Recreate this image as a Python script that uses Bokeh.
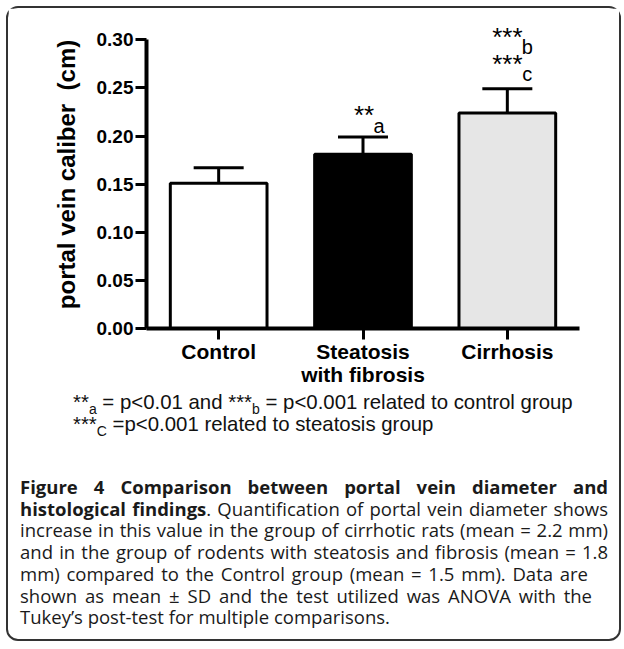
from bokeh.plotting import figure
from bokeh.models import (FactorRange, Range1d, FixedTicker, NumeralTickFormatter,
                          Whisker, TeeHead, ColumnDataSource, Label, Div)
from bokeh.layouts import column
from bokeh.embed import file_html
from bokeh.resources import INLINE

# ---------------- data ----------------
categories = ["Control", "Steatosis\nwith fibrosis", "Cirrhosis"]
means = [0.151, 0.181, 0.224]
sds = [0.016, 0.018, 0.025]
bar_colors = ["#ffffff", "#000000", "#e6e6e6"]
y_ticks = [0.0, 0.05, 0.10, 0.15, 0.20, 0.25, 0.30]
y_axis_max = 0.30

# significance marks: group index, text, baseline value
ann_group = [1, 1, 2, 2, 2, 2]
ann_text = ["**", "a", "***", "b", "***", "c"]
ann_y = [0.2213, 0.2101, 0.3033, 0.2925, 0.2745, 0.2640]

footnote_1 = ("**", "a", " = p&lt;0.01 and ***", "b", " = p&lt;0.001 related to control group")
footnote_2 = ("***", "C", " =p&lt;0.001 related to steatosis group")

caption_lines = [
    "<b>Figure 4 Comparison between portal vein diameter and</b>",
    "<b>histological findings</b>. Quantification of portal vein diameter shows",
    "increase in this value in the group of cirrhotic rats (mean = 2.2 mm)",
    "and in the group of rodents with steatosis and fibrosis (mean = 1.8",
    "mm) compared to the Control group (mean = 1.5 mm). Data are",
    "shown as mean &plusmn; SD and the test utilized was ANOVA with the",
    "Tukey&rsquo;s post-test for multiple comparisons.",
]

# ---------------- chart ----------------
FONT = "Liberation Sans"
W = 611
H = 383
TOP, BOTTOM = 12, 63
p = figure(x_range=FactorRange(factors=categories), y_range=Range1d(0, 0.32),
           width=W, height=H, output_backend="svg", toolbar_location=None,
           min_border_left=138, min_border_right=W - 138 - 433, min_border_top=TOP,
           min_border_bottom=BOTTOM)
p.outline_line_color = None
p.xgrid.grid_line_color = None
p.ygrid.grid_line_color = None
p.background_fill_color = "white"
p.border_fill_color = "white"

src = ColumnDataSource(dict(cat=categories, mean=means, color=bar_colors,
                            upper=[m + s for m, s in zip(means, sds)]))
p.vbar(x="cat", top="mean", width=0.67, bottom=0, source=src,
       fill_color="color", line_color="black", line_width=3)
wh = Whisker(base="cat", upper="upper", lower="mean", source=src,
             upper_head=TeeHead(size=50, line_width=3, line_color="black"),
             lower_head=None, line_width=3, line_color="black", level="glyph")
p.add_layout(wh)

for g, t, yv in zip(ann_group, ann_text, ann_y):
    star = t.startswith("*")
    p.add_layout(Label(x=g + 0.5, y=yv, text=t,
                       x_offset=(1 if g == 1 else 0) if star else (16 if g == 1 else 20),
                       text_align="center", text_baseline="alphabetic",
                       text_font=FONT, text_font_size="26px" if star else "20px",
                       text_color="black"))

# y axis
ya = p.yaxis[0]
ya.bounds = (0, y_axis_max)
ya.ticker = FixedTicker(ticks=y_ticks)
ya.formatter = NumeralTickFormatter(format="0.00")
ya.minor_tick_line_color = None
ya.axis_line_width = 4
ya.major_tick_line_width = 3
ya.major_tick_out = 11
ya.major_tick_in = 0
ya.major_label_standoff = 2
ya.major_label_text_font = FONT
ya.major_label_text_font_style = "bold"
ya.major_label_text_font_size = "19px"
ya.major_label_text_color = "black"
ya.axis_label = "portal vein caliber\u00a0 (cm)"
ya.axis_label_text_font = FONT
ya.axis_label_text_font_style = "bold"
ya.axis_label_text_font_size = "24px"
ya.axis_label_text_color = "black"
ya.axis_label_standoff = 14

# x axis
xa = p.xaxis[0]
xa.axis_line_width = 4
xa.major_tick_line_width = 3
xa.major_tick_out = 11
xa.major_tick_in = 0
xa.major_label_standoff = 0
xa.major_label_text_font = FONT
xa.major_label_text_font_style = "bold"
xa.major_label_text_font_size = "21px"
xa.major_label_text_color = "black"
xa.major_label_text_line_height = 1.0
xa.major_label_orientation = "horizontal"

# ---------------- footnotes ----------------
def sub(t):
    return ('<span style="font-size:14px;position:relative;top:5px;'
            'line-height:0">%s</span>' % t)

fn1 = footnote_1[0] + sub(footnote_1[1]) + footnote_1[2] + sub(footnote_1[3]) + footnote_1[4]
fn2 = footnote_2[0] + sub(footnote_2[1]) + footnote_2[2]
notes = Div(text=('<div style="font-family:\'Liberation Sans\',Arial,sans-serif;'
                  'font-size:20.4px;line-height:22px;color:#111;padding-left:65px;'
                  'padding-top:0px;white-space:nowrap">%s<br>%s</div>' % (fn1, fn2)),
            width=W, height=85, margin=0)

# ---------------- caption ----------------
line_w = [588, 588, 588, 588, 568, 572, None]
rows = []
for txt, w in zip(caption_lines, line_w):
    if w is None:
        rows.append('<div style="text-align:left">%s</div>' % txt)
    else:
        rows.append('<div style="width:%dpx;text-align:justify;text-align-last:justify">%s</div>'
                    % (w, txt))
caption = Div(text=('<div style="font-family:\'Open Sans\',sans-serif;font-size:18.5px;'
                    'line-height:21.7px;color:#1a1a1a;padding-left:12px">%s</div>'
                    % "".join(rows)),
              width=W, height=163, margin=0)

layout = column(p, notes, caption, margin=(6, 0, 0, 6),
                styles={"border": "2px solid #333", "border-radius": "12px",
                        "background-color": "white"})

open("out.html", "w").write(file_html(layout, INLINE))
